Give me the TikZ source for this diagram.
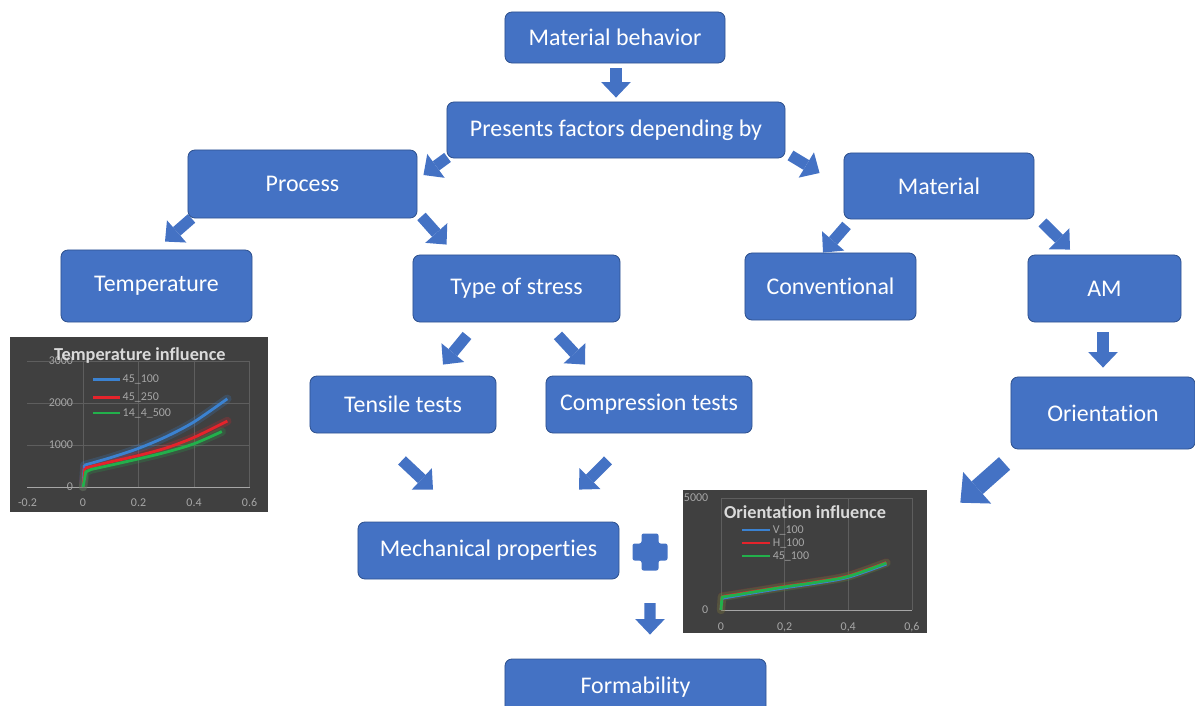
\documentclass[tikz,border=0pt]{standalone}
\usepackage{fontspec}
\setmainfont{Carlito}[Ligatures=NoCommon]
\usetikzlibrary{arrows.meta}

\definecolor{boxblue}{HTML}{4472C4}
\definecolor{boxedge}{HTML}{2F528F}
\definecolor{chartbg}{HTML}{404040}
\definecolor{gridgray}{HTML}{5E5E5E}
\definecolor{labgray}{HTML}{A6A6A6}
\definecolor{titlegray}{HTML}{DADADA}
\definecolor{serblue}{HTML}{3B82D1}
\definecolor{serred}{HTML}{E5232B}
\definecolor{sergreen}{HTML}{22B04B}

\begin{document}
\begin{tikzpicture}[x=0.025cm,y=-0.025cm,
  box/.style={draw=boxedge,line width=0.6pt,fill=boxblue,rounded corners=5pt,
    text=white,font=\fontsize{17}{20}\selectfont,inner sep=0pt},
  blk/.style={boxblue,line width=8pt,-{Triangle[width=21pt,length=11pt,line width=0pt]}},
  bigblk/.style={boxblue,line width=12pt,-{Triangle[width=30pt,length=16pt,line width=0pt]}},
  chart/.style={fill=chartbg,inner sep=0pt},
  gridln/.style={gridgray,line width=0.5pt},
  ticklab/.style={text=labgray,font=\fontsize{8.5}{10}\selectfont,inner sep=1pt},
  charttitle/.style={text=titlegray,font=\bfseries\fontsize{13}{15}\selectfont},
  glow/.style={opacity=0.22,line width=6pt,line cap=round,line join=round},
  series/.style={line width=2pt,line join=round}]
  \useasboundingbox (0,0) rectangle (1195,705);
  \clip (0,0) rectangle (1195,705);

  % Boxes of the scheme.
  \node[box,minimum width=5.5cm,minimum height=1.275cm] (MB) at (615,37.5) {Material behavior};
  \node[box,minimum width=8.45cm,minimum height=1.4cm] (PF) at (616,130) {Presents factors depending by};
  \node[box,minimum width=5.725cm,minimum height=1.7cm] (PR) at (302.5,184) {Process};
  \node[box,minimum width=4.75cm,minimum height=1.65cm] (MA) at (939,186) {Material};
  \node[box,minimum width=4.775cm,minimum height=1.8cm] (TE) at (156.5,286) {Temperature};
  \node[box,minimum width=5.175cm,minimum height=1.675cm] (TS) at (516.5,288.5) {Type of stress};
  \node[box,minimum width=4.275cm,minimum height=1.675cm] (CO) at (830.5,286.5) {Conventional};
  \node[box,minimum width=3.825cm,minimum height=1.675cm] (AM) at (1104.5,288.5) {AM};
  \node[box,minimum width=4.65cm,minimum height=1.425cm] (TT) at (403,404.5) {Tensile tests};
  \node[box,minimum width=5.15cm,minimum height=1.425cm] (CT) at (649,404.5) {Compression tests};
  \node[box,minimum width=4.6cm,minimum height=1.8cm] (OR) at (1103,413) {Orientation};
  \node[box,minimum width=6.525cm,minimum height=1.425cm] (MP) at (488.5,550.5) {Mechanical properties};
  \node[box,minimum width=6.525cm,minimum height=1.425cm] (FO) at (635.5,687.5) {Formability};

  % Chart frames.
  \node[chart,minimum width=6.45cm,minimum height=4.375cm] (TC) at (139,424.5) {};
  \node[chart,minimum width=6.1cm,minimum height=3.575cm] (OC) at (805,561.5) {};
  \coordinate (PL) at (650,552);

  % Block arrows.
  \draw[blk] ([shift={(1,5)}]MB.south) -- ([shift={(0,-4)}]PF.north);
  \draw[blk] ([shift={(1,-1)}]PF.south west) -- ([shift={(6,-9)}]PR.east);
  \draw[blk] ([shift={(5,-3)}]PF.south east) -- ([shift={(-24,-13)}]MA.west);
  \draw[blk] ([shift={(4,0)}]PR.south west) -- ([shift={(8.5,-8)}]TE.north);
  \draw[blk] ([shift={(4,-2)}]PR.south east) -- ([shift={(34,-10)}]TS.north west);
  \draw[blk] ([shift={(3,6)}]MA.south west) -- ([shift={(-7.5,0)}]CO.north);
  \draw[blk] ([shift={(8,3)}]MA.south east) -- ([shift={(-34.5,-5)}]AM.north);
  \draw[blk] ([shift={(-1.5,10)}]AM.south) -- ([shift={(0,-9)}]OR.north);
  \draw[blk] ([shift={(-49.5,13)}]TS.south) -- ([shift={(40,-11)}]TT.north);
  \draw[blk] ([shift={(41.5,13)}]TS.south) -- ([shift={(-64,-11)}]CT.north);
  \draw[blk] ([shift={(-1,27)}]TT.south) -- ([shift={(-55.5,-32)}]MP.north);
  \draw[blk] ([shift={(-41,27)}]CT.south) -- ([shift={(90.5,-32)}]MP.north);
  \draw[bigblk] ([shift={(-6,14)}]OR.south west) -- ([shift={(33,13)}]OC.north east);
  \draw[blk] ([shift={(0,51)}]PL) -- ([shift={(14.5,-24)}]FO.north);

  % Plus sign.
  \fill[boxblue,rounded corners=1.5pt,shift={(650,552)}] (-8.5,-18.5) -- (8.5,-18.5) -- (8.5,-8.5)
    -- (17.5,-8.5) -- (17.5,8.5) -- (8.5,8.5) -- (8.5,18.5) -- (-8.5,18.5) -- (-8.5,8.5)
    -- (-17.5,8.5) -- (-17.5,-8.5) -- (-8.5,-8.5) -- cycle;

  % Temperature chart.
  \begin{scope}[shift={(83,487)},x=6.9375cm,y=1.05cm]
    \foreach \gx in {0,0.2,0.4,0.6}
      \draw[gridln] (\gx,0) -- (\gx,3);
    \foreach \gy in {1,2,3}
      \draw[gridln] (-0.2,\gy) -- (0.6,\gy);
    \draw[labgray,line width=0.5pt] (-0.2,0) -- (0.6,0);
    \foreach \gy/\gl in {0/0,1/1000,2/2000,3/3000}
      \node[ticklab,anchor=east] at (-0.03,\gy) {\gl};
    \foreach \gx/\gl in {-0.2/-0.2,0/0,0.2/0.2,0.4/0.4,0.6/0.6}
      \node[ticklab] at (\gx,-0.37) {\gl};
    \draw[glow,serblue] (0,0) -- (0.005,0.52) plot[smooth] coordinates {(0.005,0.52) (0.1,0.7) (0.2,0.92) (0.3,1.2) (0.4,1.55) (0.52,2.1)};
    \draw[glow,serred] (0,0) -- (0.007,0.45) plot[smooth] coordinates {(0.007,0.45) (0.1,0.6) (0.2,0.75) (0.3,0.93) (0.4,1.18) (0.52,1.57)};
    \draw[glow,sergreen] (0,0) -- (0.01,0.36) -- (0.03,0.42) plot[smooth] coordinates {(0.03,0.42) (0.1,0.52) (0.2,0.67) (0.3,0.83) (0.4,1.03) (0.5,1.32)};
    \draw[series,serblue] (0,0) -- (0.005,0.52) plot[smooth] coordinates {(0.005,0.52) (0.1,0.7) (0.2,0.92) (0.3,1.2) (0.4,1.55) (0.52,2.1)};
    \draw[series,serred] (0,0) -- (0.007,0.45) plot[smooth] coordinates {(0.007,0.45) (0.1,0.6) (0.2,0.75) (0.3,0.93) (0.4,1.18) (0.52,1.57)};
    \draw[series,sergreen] (0,0) -- (0.01,0.36) -- (0.03,0.42) plot[smooth] coordinates {(0.03,0.42) (0.1,0.52) (0.2,0.67) (0.3,0.83) (0.4,1.03) (0.5,1.32)};
    % Legend.
    \draw[series,serblue] (0.036,2.55) -- (0.133,2.55) node[ticklab,anchor=west] {45\_100};
    \draw[series,serred] (0.036,2.14) -- (0.133,2.14) node[ticklab,anchor=west] {45\_250};
    \draw[series,sergreen] (0.036,1.76) -- (0.133,1.76) node[ticklab,anchor=west] {14\_4\_500};
    \node[charttitle] at (0.205,3.14) {Temperature influence};
  \end{scope}

  % Orientation chart.
  \begin{scope}[shift={(721,610)},x=7.95cm,y=0.56cm]
    \foreach \gx in {0.2,0.4,0.6}
      \draw[gridln] (\gx,0) -- (\gx,5);
    \draw[gridln] (0,5) -- (0.6,5);
    \draw[labgray,line width=0.5pt] (0,0) -- (0.6,0);
    \draw[gridln] (0,0) -- (0,5);
    \foreach \gy/\gl in {0/0,5/5000}
      \node[ticklab,anchor=east] at (-0.035,\gy) {\gl};
    \foreach \gx/\gl in {0/0,0.2/{0,2},0.4/{0,4},0.6/{0,6}}
      \node[ticklab] at (\gx,-0.76) {\gl};
    \draw[glow,serred] (0,0) -- (0.003,0.6) plot[smooth] coordinates {(0.003,0.6) (0.1,0.82) (0.2,1.05) (0.3,1.26) (0.4,1.52) (0.52,2.12)};
    \draw[glow,sergreen] (0,0) -- (0.003,0.58) plot[smooth] coordinates {(0.003,0.58) (0.1,0.8) (0.2,1.03) (0.3,1.24) (0.4,1.5) (0.52,2.1)};
    \draw[series,serblue] (0,0) -- (0.003,0.52) plot[smooth] coordinates {(0.003,0.52) (0.1,0.76) (0.2,0.99) (0.3,1.2) (0.4,1.46) (0.52,2.05)};
    \draw[series,serred] (0,0) -- (0.003,0.6) plot[smooth] coordinates {(0.003,0.6) (0.1,0.82) (0.2,1.05) (0.3,1.26) (0.4,1.52) (0.52,2.12)};
    \draw[series,sergreen] (0,0) -- (0.003,0.58) -- (0.05,0.68) plot[smooth] coordinates {(0.05,0.68) (0.1,0.8) (0.2,1.03) (0.3,1.24) (0.4,1.5) (0.52,2.1)};
    % Legend.
    \draw[series,serblue] (0.066,3.57) -- (0.154,3.57) node[ticklab,anchor=west] {V\_100};
    \draw[series,serred] (0.066,2.99) -- (0.154,2.99) node[ticklab,anchor=west] {H\_100};
    \draw[series,sergreen] (0.066,2.41) -- (0.154,2.41) node[ticklab,anchor=west] {45\_100};
    \node[charttitle] at (0.264,4.375) {Orientation influence};
  \end{scope}
\end{tikzpicture}
\end{document}
